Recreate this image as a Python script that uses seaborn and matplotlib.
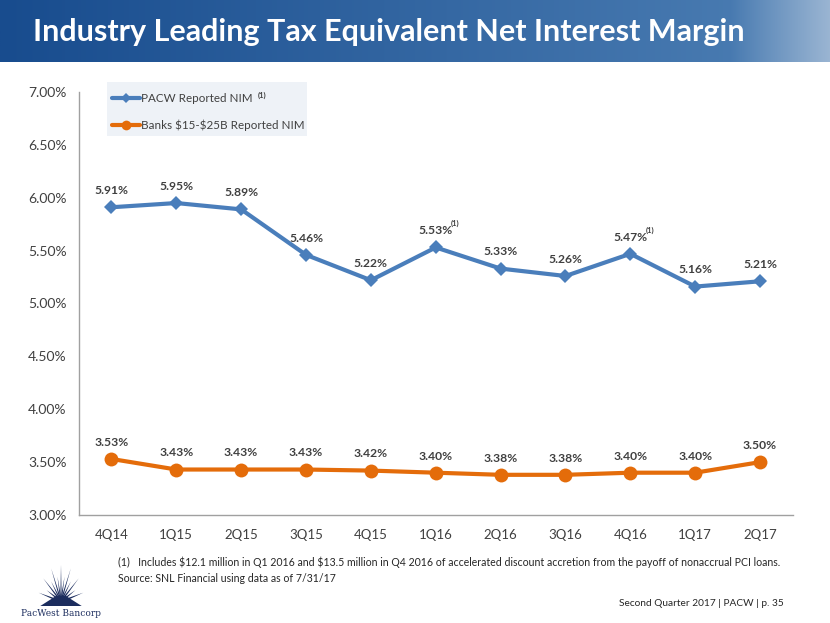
import numpy as np
import pandas as pd
import matplotlib
matplotlib.use("Agg")
import matplotlib.pyplot as plt
import seaborn as sns
from matplotlib.patches import Rectangle, Polygon
from matplotlib.lines import Line2D

quarters = ["4Q14", "1Q15", "2Q15", "3Q15", "4Q15", "1Q16", "2Q16", "3Q16", "4Q16", "1Q17", "2Q17"]
pacw_nim = [5.91, 5.95, 5.89, 5.46, 5.22, 5.53, 5.33, 5.26, 5.47, 5.16, 5.21]
banks_nim = [3.53, 3.43, 3.43, 3.43, 3.42, 3.40, 3.38, 3.38, 3.40, 3.40, 3.50]
footnoted = ["1Q16", "4Q16"]
y_ticks = [3.0, 3.5, 4.0, 4.5, 5.0, 5.5, 6.0, 6.5, 7.0]

sns.set_theme(style="white")
plt.rcParams["font.family"] = ["Lato", "DejaVu Sans"]

BLUE = "#4A7EBB"
ORANGE = "#E46C0A"
TXT = "#404040"

fig = plt.figure(figsize=(8.3, 6.23), dpi=100)
W, H = 830, 623

def fx(px):
    return px / W

def fy(py):
    return 1 - py / H

# Banner
bax = fig.add_axes([0, fy(62), 1, 62 / H])
grad = np.linspace(0, 1, 400)
c0 = np.array([0x18, 0x4C, 0x8E]) / 255
c1 = np.array([0x4E, 0x80, 0xB5]) / 255
cols = c0[None, :] * (1 - grad[:, None]) + c1[None, :] * grad[:, None]
fade = np.clip((grad - 0.88) / 0.12, 0, 1)[:, None]
cols = cols * (1 - 0.55 * fade) + np.array([0.85, 0.88, 0.92])[None, :] * 0.55 * fade
bax.imshow(cols[None, :, :], aspect="auto", extent=[0, 1, 0, 1])
bax.set_axis_off()
fig.text(fx(33), fy(32), "Industry Leading Tax Equivalent Net Interest Margin",
         color="white", fontsize=22, fontweight="bold", va="center", ha="left")

# Main axes
ax = fig.add_axes([fx(79), fy(515), fx(792.5) - fx(79), (515 - 92) / H])
df = pd.DataFrame({"Quarter": quarters, "PACW": pacw_nim, "Banks": banks_nim})
df["pos"] = np.arange(len(quarters))
sns.lineplot(data=df, x="pos", y="PACW", ax=ax, color=BLUE, linewidth=3,
             marker="D", markersize=7, markeredgewidth=0, label="PACW Reported NIM")
sns.lineplot(data=df, x="pos", y="Banks", ax=ax, color=ORANGE, linewidth=3,
             marker="o", markersize=10, markeredgewidth=0, label="Banks")

ax.set_xlim(-0.5, len(quarters) - 0.5)
ax.set_ylim(3.0, 7.0)
ax.set_yticks(y_ticks)
ax.set_yticklabels([f"{v:.2f}%" for v in y_ticks], fontsize=10, color=TXT)
ax.set_xticks(df["pos"])
ax.set_xticklabels(quarters, fontsize=9.5, color=TXT)
ax.set_xticks(np.arange(-0.5, len(quarters)), minor=True)
ax.tick_params(axis="x", which="major", length=0, pad=10)
ax.tick_params(axis="x", which="minor", length=5, color="#A0A0A0", width=1, direction="out")
ax.tick_params(axis="y", which="major", length=5, color="#A0A0A0", width=1, direction="out", pad=4)
ax.set_xlabel("")
ax.set_ylabel("")
for s in ["top", "right"]:
    ax.spines[s].set_visible(False)
for s in ["left", "bottom"]:
    ax.spines[s].set_color("#A0A0A0")
    ax.spines[s].set_linewidth(1)
ax.grid(False)
ax.get_legend().remove()

for i, q in enumerate(quarters):
    ax.annotate(f"{pacw_nim[i]:.2f}%", (i, pacw_nim[i]), xytext=(0, 8), textcoords="offset points",
                ha="center", va="bottom", fontsize=8.7, fontweight="bold", color=TXT)
    ax.annotate(f"{banks_nim[i]:.2f}%", (i, banks_nim[i]), xytext=(0, 8), textcoords="offset points",
                ha="center", va="bottom", fontsize=8.7, fontweight="bold", color=TXT)
    if q in footnoted:
        ax.annotate("(1)", (i, pacw_nim[i]), xytext=(11, 17), textcoords="offset points",
                    ha="left", va="center", fontsize=5.5, fontweight="bold", color=TXT)

# Legend
fig.patches.append(Rectangle((fx(107), fy(136)), fx(307) - fx(107), (136 - 82) / H,
                             transform=fig.transFigure, facecolor="#EEF2F7", edgecolor="none", zorder=0))
handles = [Line2D([], [], color=BLUE, lw=3, marker="D", markersize=5, markeredgewidth=0),
           Line2D([], [], color=ORANGE, lw=3, marker="o", markersize=7, markeredgewidth=0)]
leg = fig.legend(handles, ["PACW Reported NIM", "Banks \\$15-\\$25B Reported NIM"],
                 loc="upper left", bbox_to_anchor=(fx(107), fy(88)), frameon=False,
                 fontsize=8.4, handlelength=2.4, handletextpad=0.1, labelspacing=1.35,
                 borderaxespad=0, labelcolor=TXT)
fig.canvas.draw()
bb = leg.get_texts()[0].get_window_extent()
fig.text((bb.x1 + 5) / W, (bb.y1 - 3) / H, "(1)", fontsize=5.5, fontweight="bold",
         color=TXT, va="center", ha="left")

# Footnotes
fig.text(fx(118), fy(562), "(1)   Includes \\$12.1 million in Q1 2016 and \\$13.5 million in Q4 2016 of accelerated discount accretion from the payoff of nonaccrual PCI loans.",
         fontsize=7.6, color="#262626", va="center", ha="left")
fig.text(fx(118), fy(578), "Source: SNL Financial using data as of 7/31/17",
         fontsize=7.6, color="#262626", va="center", ha="left")
fig.text(fx(784), fy(604), "Second Quarter 2017 | PACW | p. 35",
         fontsize=7.3, color="#262626", va="center", ha="right")

# Logo: starburst
lax = fig.add_axes([fx(38), fy(606), fx(84) - fx(38), (606 - 565) / H])
lax.set_xlim(-1, 1)
lax.set_ylim(0, 1)
lax.set_axis_off()
navy = "#1C2D5E"
angles = np.linspace(np.pi * 0.08, np.pi * 0.92, 13)
for k, a in enumerate(angles):
    L = 1.0 if k % 2 == 0 else 0.7
    w = 0.06
    tip = (L * np.cos(a), 0.1 + L * 0.9 * np.sin(a))
    b1 = (0.15 * np.cos(a + w * 3), 0.1 + 0.15 * np.sin(a + w * 3))
    b2 = (0.15 * np.cos(a - w * 3), 0.1 + 0.15 * np.sin(a - w * 3))
    lax.add_patch(Polygon([b1, tip, b2], closed=True, facecolor=navy, edgecolor="none"))
lax.add_patch(Polygon([(-0.9, 0.0), (-0.2, 0.25), (0.2, 0.25), (0.9, 0.0)], closed=True,
                      facecolor=navy, edgecolor="none"))
fig.text(fx(61), fy(613), "PacWest Bancorp", fontsize=6.5, family=["DejaVu Serif"],
         color=navy, ha="center", va="center")

fig.savefig("out.png", dpi=100)
